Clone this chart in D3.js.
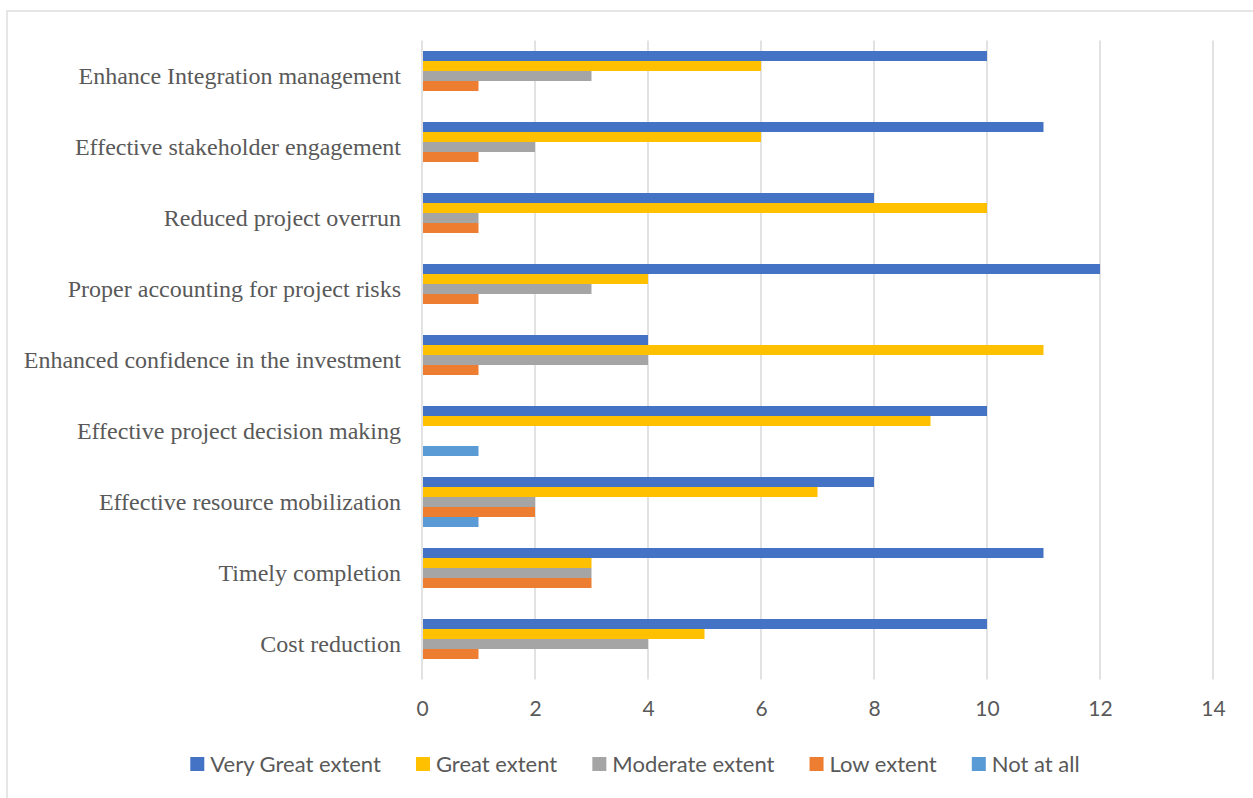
<!DOCTYPE html>
<html><head><meta charset="utf-8">
<script src="https://cdn.jsdelivr.net/npm/d3@7"></script>
<style>body{margin:0;background:#fff;} svg{display:block;}</style>
</head><body>
<svg id="c" width="1253" height="798"></svg>
<script>
const categories = ["Enhance Integration management","Effective stakeholder engagement","Reduced project overrun","Proper accounting for project risks","Enhanced confidence in the investment","Effective project decision making","Effective resource mobilization","Timely completion","Cost reduction"];
const seriesNames = ["Very Great extent","Great extent","Moderate extent","Low extent","Not at all"];
const veryGreat = [10,11,8,12,4,10,8,11,10];
const great     = [6,6,10,4,11,9,7,3,5];
const moderate  = [3,2,1,3,4,0,2,3,4];
const low       = [1,1,1,1,1,0,2,3,1];
const notAtAll  = [0,0,0,0,0,1,1,0,0];
const xTicks = [0,2,4,6,8,10,12,14];
const colors = ["#4472C4","#FFC000","#A5A5A5","#ED7D31","#5B9BD5"];

const seriesValues = [veryGreat, great, moderate, low, notAtAll];
const svg = d3.select("#c");
// chart border
svg.append("rect").attr("x",7).attr("y",11).attr("width",1260).attr("height",800)
  .attr("fill","none").attr("stroke","#d9d9d9").attr("stroke-width",1.3);

const m = {left:422, right:1213, top:40.5, bottom:679.5};
const x = d3.scaleLinear().domain([0,14]).range([m.left, m.right]);
const y0 = d3.scaleBand().domain(categories).range([m.top, m.bottom]).paddingInner(0.296).paddingOuter(0.148);
const y1 = d3.scaleBand().domain(seriesNames).range([0, y0.bandwidth()]);

// gridlines
svg.append("g").selectAll("line").data(xTicks).join("line")
  .attr("x1",d=>x(d)).attr("x2",d=>x(d)).attr("y1",m.top).attr("y2",m.bottom)
  .attr("stroke","#d9d9d9").attr("stroke-width",1.5);

// bars
const g = svg.append("g");
categories.forEach((c,i)=>{
  seriesNames.forEach((s,j)=>{
    const v = seriesValues[j][i];
    if (v<=0) return;
    g.append("rect").attr("x",x(0)+1).attr("y",y0(c)+y1(s))
      .attr("width",x(v)-x(0)-1).attr("height",y1.bandwidth())
      .attr("fill",colors[j]);
  });
});

// x axis
const xa = svg.append("g").attr("transform",`translate(0,${m.bottom})`)
  .call(d3.axisBottom(x).tickValues(xTicks).tickSize(0).tickPadding(22).tickFormat(d3.format("d")));
xa.select(".domain").remove();
xa.selectAll("text").attr("font-family","Lato, 'Open Sans', sans-serif").attr("font-size","21px").attr("fill","#595959");

// y axis labels
const ya = svg.append("g").attr("transform",`translate(${m.left},0)`)
  .call(d3.axisLeft(y0).tickSize(0).tickPadding(21));
ya.select(".domain").remove();
ya.selectAll("text").attr("font-family","'Liberation Serif','Times New Roman',serif").attr("font-size","24px").attr("fill","#595959");

// legend
const lg = svg.append("g").attr("transform","translate(0,764)");
const items = lg.selectAll("g").data(seriesNames).join("g");
items.append("rect").attr("width",14).attr("height",14).attr("y",-7).attr("fill",(d,i)=>colors[i]);
items.append("text").attr("x",20).attr("dy","0.35em").text(d=>d)
  .attr("font-family","Lato, 'Open Sans', sans-serif").attr("font-size","22px").attr("fill","#595959");
let widths = [];
items.each(function(){ widths.push(this.getBBox().width); });
const gap = 35;
const total = d3.sum(widths) + gap*(widths.length-1);
let cx = 635 - total/2;
items.attr("transform",(d,i)=>{ const t=`translate(${cx},0)`; cx += widths[i]+gap; return t; });
</script>
</body></html>
